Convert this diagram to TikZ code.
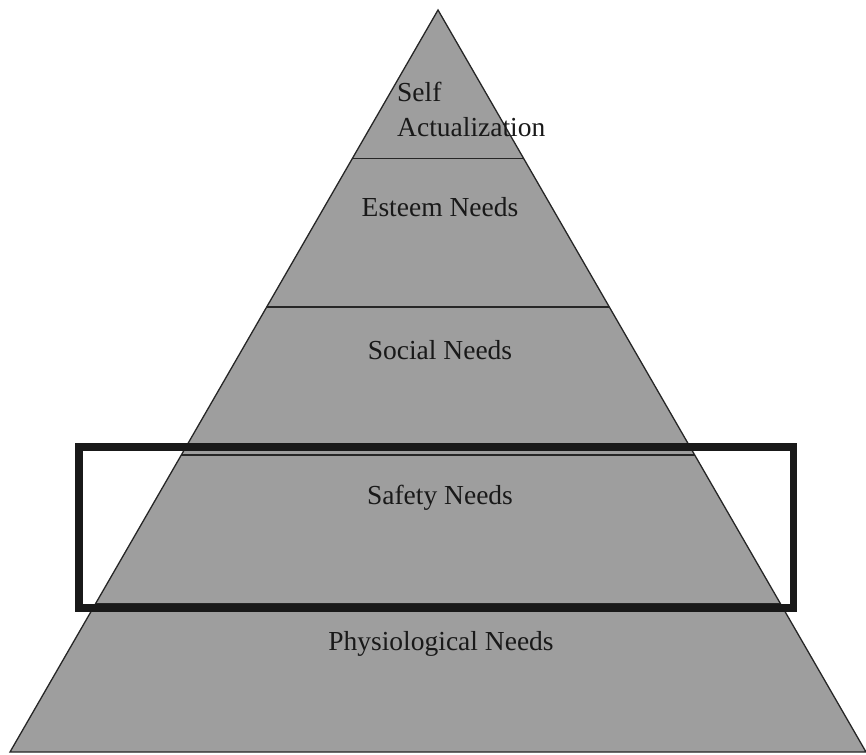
\documentclass[tikz,border=0pt]{standalone}
\usepackage{fontspec}
\setmainfont{Liberation Serif}
\usetikzlibrary{calc}
\definecolor{pyrgray}{RGB}{158,158,158}

\begin{document}
\begin{tikzpicture}[x=1pt, y=-1pt,
        tier/.style={font=\fontsize{27.5}{35}\selectfont, text=black!90,
                     inner sep=0pt, anchor=base},
        divider/.style={draw=black!85, line width=1.5pt},
        focus/.style={draw=black!90, line width=7.5pt}]
      \useasboundingbox (0,0) rectangle (866,754);
      \coordinate (apex) at (438,10);
      \coordinate (bl) at (10,752);
      \coordinate (br) at (866,752);
      \filldraw[fill=pyrgray, draw=black!85, line width=1.3pt] (apex) -- (bl) -- (br) -- cycle;
      % borders between the tiers
      \foreach \k in {1,...,4}
        \draw[divider] ($(apex)!\k/5!(bl)$) -- ($(apex)!\k/5!(br)$);
      \node[tier, anchor=base west, align=left] (self) at (397,137) {Self\\Actualization};
      \node[tier] (esteem) at (440,216) {Esteem Needs};
      \node[tier] (social) at (440,359) {Social Needs};
      \node[tier] (safety) at (440,504) {Safety Needs};
      \node[tier] (physio) at (441,650) {Physiological Needs};
      % highlighted tier
      \draw[focus] (79,447) rectangle (793.5,608);
    \end{tikzpicture}
\end{document}
